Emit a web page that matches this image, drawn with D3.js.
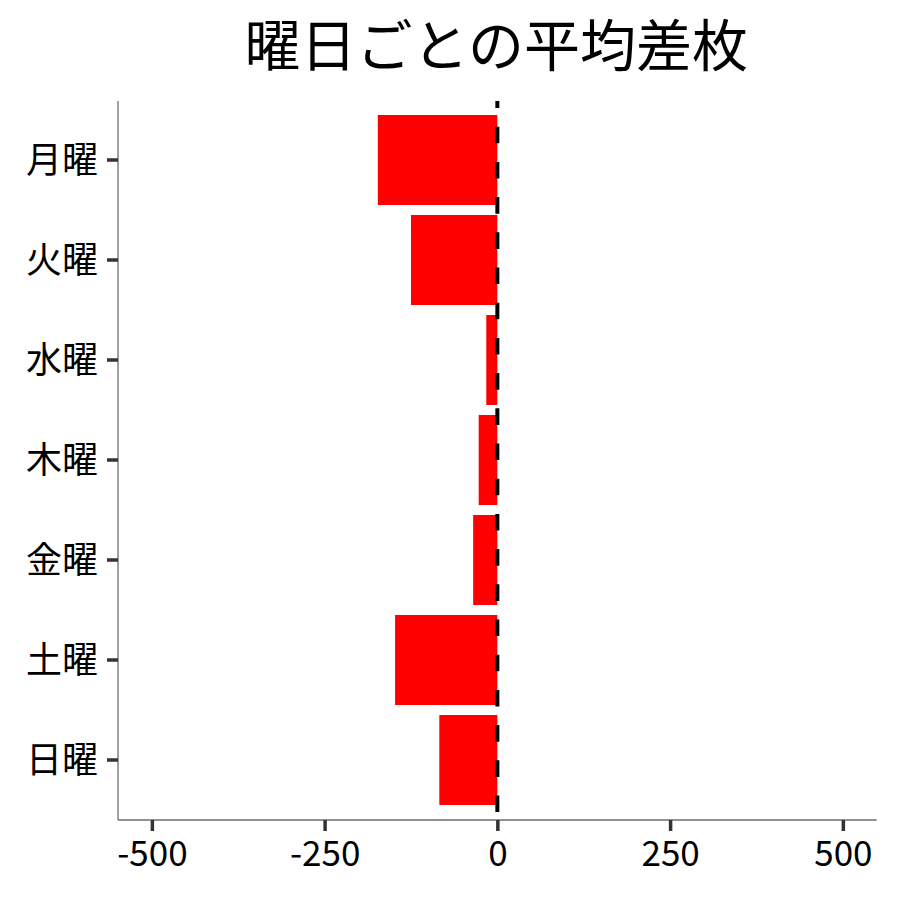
<!DOCTYPE html>
<html><head><meta charset="utf-8">
<script src="https://cdn.jsdelivr.net/npm/d3@7"></script>
<style>body{margin:0;background:#fff}</style>
</head><body>
<svg id="chart" width="900" height="900"></svg>
<script>
const categories = ["月曜","火曜","水曜","木曜","金曜","土曜","日曜"];
const values = [-173, -125, -16, -27, -35, -148, -84];
const xTicks = [-500, -250, 0, 250, 500];
const title = "曜日ごとの平均差枚";

const font = "'Noto Sans CJK JP','Noto Sans',sans-serif";
const svg = d3.select("#chart");
const m = {left:118, right:876.7, top:100, bottom:820};

const x = d3.scaleLinear().domain([-549, 549]).range([m.left, m.right]);
const y = d3.scaleBand().domain(categories).range([m.top, m.bottom]).paddingInner(0.1).paddingOuter(0.15);

// bars
svg.append("g").selectAll("rect").data(categories).join("rect")
  .attr("x", (d,i) => x(Math.min(0, values[i])))
  .attr("width", (d,i) => Math.abs(x(values[i]) - x(0)))
  .attr("y", d => y(d))
  .attr("height", y.bandwidth())
  .attr("fill", "#ff0000");

// dashed zero line
svg.append("line")
  .attr("x1", x(0)).attr("x2", x(0))
  .attr("y1", m.top + 1).attr("y2", m.bottom)
  .attr("stroke", "#000").attr("stroke-width", 4)
  .attr("stroke-dasharray", "16.6,18.6").attr("stroke-dashoffset", 9.5);

// axes lines
svg.append("line").attr("x1", m.left).attr("x2", m.left).attr("y1", m.top+1).attr("y2", m.bottom)
  .attr("stroke", "#6e6e6e").attr("stroke-width", 1.3);
svg.append("line").attr("x1", m.left).attr("x2", m.right).attr("y1", m.bottom).attr("y2", m.bottom)
  .attr("stroke", "#6e6e6e").attr("stroke-width", 1.3);

// y axis
const yAxis = d3.axisLeft(y).tickSize(11).tickPadding(9);
const gy = svg.append("g").attr("transform", `translate(${m.left},0)`).call(yAxis);
gy.select(".domain").remove();
gy.selectAll(".tick line").attr("stroke", "#333").attr("stroke-width", 3.5);
gy.selectAll(".tick text").attr("font-family", font).attr("font-size", 36).attr("fill", "#000")
  .attr("dy", "0.35em");

// x axis
const xAxis = d3.axisBottom(x).tickValues(xTicks).tickSize(11).tickPadding(10).tickFormat(d => String(d));
const gx = svg.append("g").attr("transform", `translate(0,${m.bottom})`).call(xAxis);
gx.select(".domain").remove();
gx.selectAll(".tick line").attr("stroke", "#333").attr("stroke-width", 3.5);
gx.selectAll(".tick text").attr("font-family", font).attr("font-size", 35).attr("fill", "#000")
  .attr("dy", "0.71em");

// title
svg.append("text").attr("x", (m.left + m.right)/2 - 1).attr("y", 66)
  .attr("text-anchor", "middle").attr("font-family", font).attr("font-size", 56)
  .attr("fill", "#000").text(title);
</script>
</body></html>
